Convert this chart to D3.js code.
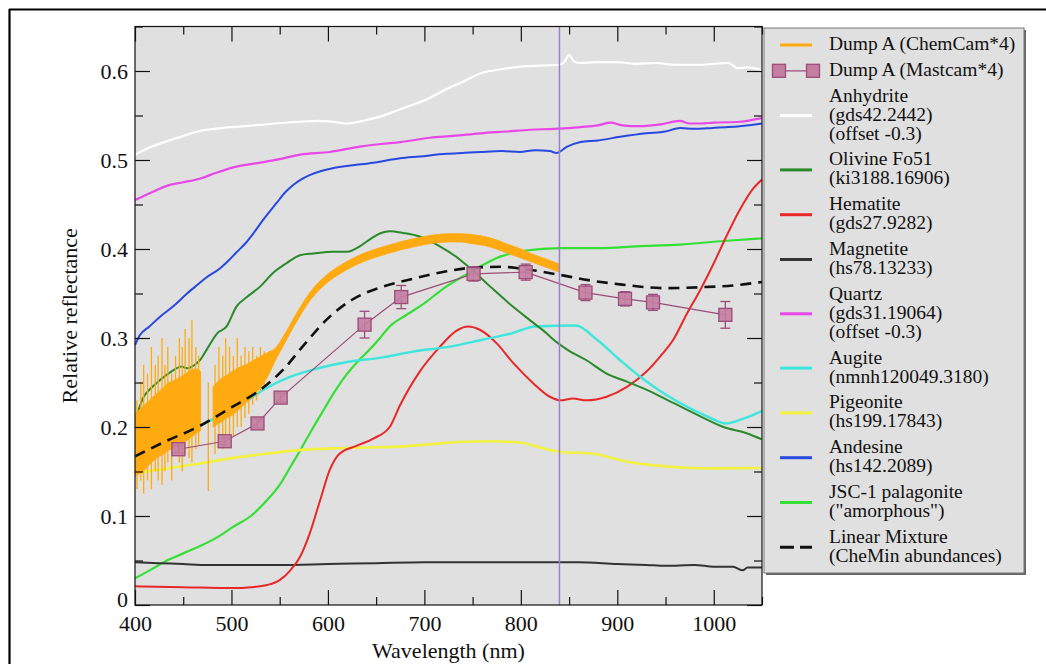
<!DOCTYPE html>
<html>
<head>
<meta charset="utf-8">
<script src="https://cdn.jsdelivr.net/npm/d3@7"></script>
<style>
  body { margin: 0; background: #ffffff; }
  svg { display: block; }
  text { font-family: "Liberation Serif", "Times New Roman", serif; fill: #111; }
</style>
</head>
<body>
<svg id="chart" width="1046" height="664"></svg>
<script>
// ---- Spectra: [wavelength nm, relative reflectance] ----
const anhydrite = [[400,0.506],[415,0.514],[430,0.52],[450,0.527],[465,0.532],[490,0.536],[515,0.538],[545,0.541],[570,0.543],[590,0.544],[605,0.543],[620,0.541],[640,0.545],[655,0.549],[670,0.555],[685,0.561],[700,0.567],[720,0.578],[740,0.588],[760,0.598],[780,0.602],[800,0.605],[820,0.606],[840,0.607],[845,0.61],[850,0.618],[855,0.611],[860,0.609],[880,0.61],[900,0.61],[920,0.608],[940,0.609],[960,0.607],[985,0.607],[1000,0.608],[1015,0.609],[1025,0.603],[1035,0.604],[1050,0.601]];
const quartz = [[400,0.455],[420,0.465],[436,0.472],[450,0.475],[467,0.479],[485,0.486],[503,0.492],[530,0.497],[550,0.501],[571,0.506],[602,0.509],[633,0.515],[655,0.518],[675,0.52],[706,0.525],[730,0.527],[758,0.530],[785,0.532],[810,0.534],[835,0.535],[862,0.537],[880,0.539],[893,0.542],[905,0.539],[923,0.538],[945,0.54],[965,0.544],[975,0.541],[986,0.541],[1000,0.542],[1027,0.543],[1040,0.545],[1050,0.547]];
const andesine = [[400,0.292],[405,0.303],[415,0.313],[426,0.324],[440,0.336],[454,0.350],[465,0.36],[474,0.368],[488,0.378],[497,0.387],[505,0.396],[515,0.407],[523,0.418],[533,0.433],[547,0.452],[556,0.464],[564,0.472],[572,0.478],[581,0.483],[594,0.488],[606,0.491],[626,0.494],[647,0.497],[675,0.502],[695,0.504],[723,0.507],[740,0.508],[758,0.509],[780,0.51],[799,0.509],[815,0.511],[830,0.51],[837,0.508],[848,0.515],[861,0.52],[880,0.522],[903,0.526],[930,0.53],[950,0.532],[965,0.536],[980,0.535],[999,0.536],[1015,0.537],[1027,0.538],[1050,0.541]];
const olivine = [[400,0.208],[402,0.214],[409,0.234],[416,0.243],[423,0.25],[432,0.258],[440,0.264],[448,0.268],[454,0.266],[462,0.27],[468,0.276],[476,0.29],[485,0.305],[495,0.313],[505,0.335],[516,0.346],[530,0.358],[543,0.373],[557,0.384],[571,0.393],[585,0.395],[605,0.397],[620,0.397],[633,0.403],[645,0.412],[655,0.418],[664,0.42],[678,0.418],[695,0.414],[716,0.403],[737,0.388],[750,0.376],[768,0.358],[792,0.335],[813,0.317],[827,0.305],[834,0.298],[848,0.287],[868,0.275],[889,0.26],[910,0.251],[930,0.242],[958,0.227],[986,0.212],[1010,0.2],[1034,0.193],[1050,0.186]];
const hematite = [[400,0.021],[450,0.02],[502,0.019],[520,0.02],[537,0.0225],[550,0.028],[561,0.039],[571,0.054],[581,0.08],[592,0.118],[602,0.152],[612,0.17],[630,0.179],[647,0.187],[664,0.2],[675,0.225],[695,0.262],[716,0.29],[733,0.308],[745,0.313],[758,0.309],[775,0.294],[792,0.272],[813,0.249],[830,0.234],[841,0.23],[854,0.232],[868,0.23],[889,0.234],[910,0.245],[930,0.262],[945,0.28],[958,0.298],[972,0.327],[986,0.354],[1000,0.384],[1013,0.414],[1027,0.444],[1041,0.468],[1050,0.478]];
const magnetite = [[400,0.048],[425,0.047],[450,0.046],[475,0.045],[500,0.045],[550,0.045],[600,0.046],[650,0.047],[700,0.048],[750,0.048],[800,0.048],[840,0.048],[860,0.048],[900,0.046],[930,0.045],[950,0.044],[980,0.045],[1000,0.043],[1020,0.043],[1030,0.039],[1035,0.042],[1050,0.042]];
const augite = [[400,0.163],[430,0.185],[465,0.2],[490,0.214],[510,0.225],[535,0.243],[560,0.256],[590,0.266],[620,0.273],[655,0.278],[690,0.285],[725,0.29],[760,0.298],[790,0.305],[815,0.313],[857,0.314],[879,0.298],[903,0.275],[923,0.257],[948,0.238],[972,0.223],[993,0.212],[1013,0.204],[1027,0.208],[1048,0.217],[1050,0.218]];
const pigeonite = [[400,0.148],[430,0.153],[467,0.159],[500,0.165],[536,0.17],[570,0.174],[605,0.176],[640,0.177],[675,0.178],[710,0.181],[740,0.1835],[770,0.184],[802,0.182],[820,0.177],[841,0.172],[875,0.17],[895,0.165],[910,0.161],[930,0.158],[948,0.156],[975,0.154],[1000,0.1535],[1050,0.154]];
const palagonite = [[400,0.03],[417,0.04],[433,0.05],[450,0.058],[467,0.066],[485,0.076],[502,0.088],[520,0.1],[537,0.118],[550,0.135],[561,0.155],[573,0.177],[585,0.2],[596,0.22],[606,0.238],[620,0.26],[633,0.276],[645,0.289],[654,0.3],[664,0.313],[680,0.325],[696,0.336],[723,0.358],[751,0.376],[775,0.39],[803,0.398],[841,0.401],[882,0.401],[920,0.403],[965,0.405],[1010,0.409],[1050,0.412]];
const mixture = [[400,0.167],[430,0.183],[465,0.2],[500,0.222],[535,0.246],[555,0.266],[575,0.292],[600,0.322],[625,0.343],[655,0.357],[690,0.367],[723,0.375],[750,0.379],[780,0.38],[800,0.378],[840,0.371],[870,0.365],[905,0.36],[950,0.356],[985,0.357],[1020,0.359],[1050,0.363]];

// ChemCam band (x4): envelope of the dense spectrum, null marks the data gap
const chemcamNm = [400,405,410,415,420,425,430,435,440,445,450,455,460,465,468,474,481,485,490,495,500,505,510,515,520,525,530,535,540,545,550,555,560,565,570,575,580,590,600,612,625,637,650,662,675,687,700,712,725,737,750,762,775,787,800,810,820,830,840];
const chemcamLo = [0.145,0.148,0.152,0.158,0.163,0.167,0.17,0.174,0.177,0.18,0.183,0.186,0.19,0.194,0.196,null,0.2,0.203,0.206,0.21,0.213,0.217,0.222,0.227,0.232,0.238,0.244,0.252,0.262,0.274,0.284,0.294,0.304,0.314,0.323,0.332,0.34,0.353,0.363,0.372,0.38,0.386,0.391,0.395,0.399,0.402,0.405,0.407,0.408,0.408,0.406,0.404,0.4,0.395,0.39,0.386,0.382,0.378,0.374];
const chemcamHi = [0.215,0.22,0.225,0.23,0.235,0.24,0.245,0.25,0.252,0.255,0.258,0.262,0.265,0.265,0.262,null,0.245,0.25,0.255,0.258,0.262,0.265,0.268,0.27,0.273,0.276,0.279,0.282,0.285,0.288,0.295,0.304,0.313,0.323,0.332,0.341,0.349,0.362,0.372,0.381,0.389,0.395,0.4,0.404,0.408,0.411,0.414,0.416,0.417,0.417,0.416,0.414,0.41,0.405,0.4,0.395,0.391,0.387,0.383];
// individual noise spikes of the ChemCam spectrum
const spikeNm = [402,406,409,413,417,421,424,428,431,434,438,442,446,449,452,456,459,463,466,476,483,487,491,494,498,502,506,510,514,518,522,526,530,534];
const spikeLo = [0.13,0.14,0.125,0.14,0.13,0.15,0.14,0.135,0.15,0.16,0.14,0.17,0.16,0.15,0.17,0.165,0.16,0.175,0.18,0.128,0.17,0.18,0.175,0.19,0.185,0.19,0.2,0.2,0.21,0.215,0.225,0.23,0.24,0.245];
const spikeHi = [0.23,0.25,0.27,0.26,0.29,0.27,0.28,0.3,0.27,0.29,0.26,0.28,0.3,0.29,0.31,0.3,0.32,0.29,0.28,0.25,0.27,0.29,0.28,0.3,0.29,0.28,0.3,0.28,0.29,0.285,0.29,0.28,0.29,0.285];

// Mastcam (x4) filter reflectances with error bars
const mastcamNm = [445,493,527,551,638,676,751,805,867,908,937,1012];
const mastcamVal = [0.175,0.184,0.204,0.233,0.315,0.346,0.372,0.374,0.351,0.344,0.340,0.326];
const mastcamErr = [0.004,0.004,0.005,0.005,0.015,0.013,0.008,0.009,0.009,0.008,0.009,0.015];

// axis ticks
const xTicks = [400,500,600,700,800,900,1000];
const xMinor = [450,550,650,750,850,950,1050];
const yTicks = [0,0.1,0.2,0.3,0.4,0.5,0.6];
const yTickLabels = ["0","0.1","0.2","0.3","0.4","0.5","0.6"];
const yMinor = [0.05,0.15,0.25,0.35,0.45,0.55,0.65];
const markerNm = 840;

// drawing order and styles of the reference spectra
const series = [
  {name:"palagonite", data:palagonite, color:"#33e033", width:2.2},
  {name:"pigeonite", data:pigeonite, color:"#f2f240", width:2.6},
  {name:"magnetite", data:magnetite, color:"#333333", width:2},
  {name:"hematite", data:hematite, color:"#e82828", width:2},
  {name:"augite", data:augite, color:"#3ee6dc", width:2.4},
  {name:"olivine", data:olivine, color:"#2a8a2a", width:2},
  {name:"andesine", data:andesine, color:"#2848e0", width:2},
  {name:"quartz", data:quartz, color:"#e848e8", width:2.2},
  {name:"anhydrite", data:anhydrite, color:"#ffffff", width:2.2}
];

const legendItems = [
  {lines:["Dump A (ChemCam*4)"], color:"#ffaa10", type:"line", width:3},
  {lines:["Dump A (Mastcam*4)"], type:"mastcam"},
  {lines:["Anhydrite","(gds42.2442)","(offset -0.3)"], color:"#ffffff", type:"line", width:3},
  {lines:["Olivine Fo51","(ki3188.16906)"], color:"#2a8a2a", type:"line", width:3},
  {lines:["Hematite","(gds27.9282)"], color:"#e82828", type:"line", width:3},
  {lines:["Magnetite","(hs78.13233)"], color:"#333333", type:"line", width:3},
  {lines:["Quartz","(gds31.19064)","(offset -0.3)"], color:"#e848e8", type:"line", width:3},
  {lines:["Augite","(nmnh120049.3180)"], color:"#3ee6dc", type:"line", width:3},
  {lines:["Pigeonite","(hs199.17843)"], color:"#f2f240", type:"line", width:3},
  {lines:["Andesine","(hs142.2089)"], color:"#2848e0", type:"line", width:3},
  {lines:["JSC-1 palagonite","(\"amorphous\")"], color:"#33e033", type:"line", width:3},
  {lines:["Linear Mixture","(CheMin abundances)"], color:"#111111", type:"dash", width:3}
];

const svg = d3.select("#chart");
const pL = 135, pR = 762, pT = 26.5, pB = 605;
const x = d3.scaleLinear().domain([400,1050]).range([pL,pR]);
const y = d3.scaleLinear().domain([0,0.65]).range([pB,pT]);

// outer frame
svg.append("line").attr("x1",9).attr("x2",1046).attr("y1",9.5).attr("y2",9.5).attr("stroke","#000").attr("stroke-width",2.2);
svg.append("line").attr("x1",9.5).attr("x2",9.5).attr("y1",9).attr("y2",664).attr("stroke","#000").attr("stroke-width",2.2);

// plot background
svg.append("rect").attr("x",pL).attr("y",pT).attr("width",pR-pL).attr("height",pB-pT).attr("fill","#e0e0e0");

const clip = svg.append("defs").append("clipPath").attr("id","plotclip");
clip.append("rect").attr("x",pL).attr("y",pT).attr("width",pR-pL).attr("height",pB-pT);
const plot = svg.append("g").attr("clip-path","url(#plotclip)");

const line = d3.line().x(d => x(d[0])).y(d => y(d[1])).curve(d3.curveMonotoneX);

series.forEach(s => {
  plot.append("path").datum(s.data).attr("d", line)
    .attr("fill","none").attr("stroke", s.color).attr("stroke-width", s.width)
    .attr("stroke-linejoin","round");
});

// ChemCam spectrum
const ccColor = "#ffaa10";
const ccData = chemcamNm.map((n,i) => ({nm:n, lo:chemcamLo[i], hi:chemcamHi[i]}));
const ccArea = d3.area().defined(d => d.lo !== null)
  .x(d => x(d.nm)).y0(d => y(d.lo)).y1(d => y(d.hi)).curve(d3.curveMonotoneX);
plot.append("path").datum(ccData).attr("d", ccArea).attr("fill", ccColor).attr("stroke", ccColor).attr("stroke-width",1);
plot.append("g").selectAll("line").data(spikeNm).join("line")
  .attr("x1", d => x(d)).attr("x2", d => x(d))
  .attr("y1", (d,i) => y(spikeLo[i])).attr("y2", (d,i) => y(spikeHi[i]))
  .attr("stroke", ccColor).attr("stroke-width", 1.3);

// linear mixture model
plot.append("path").datum(mixture).attr("d", line).attr("fill","none")
  .attr("stroke","#111").attr("stroke-width",2.6).attr("stroke-dasharray","11,7");

// Mastcam points
const mc = mastcamNm.map((n,i) => ({nm:n, v:mastcamVal[i], e:mastcamErr[i]}));
const mcColor = "#9c4c78", mcFill = "#c47ea2";
plot.append("path").datum(mc).attr("d", d3.line().x(d => x(d.nm)).y(d => y(d.v)))
  .attr("fill","none").attr("stroke", mcColor).attr("stroke-width",1.2);
const mcG = plot.append("g").selectAll("g").data(mc).join("g");
mcG.append("line").attr("x1", d => x(d.nm)).attr("x2", d => x(d.nm))
  .attr("y1", d => y(d.v - d.e)).attr("y2", d => y(d.v + d.e)).attr("stroke", mcColor).attr("stroke-width",1.3);
mcG.append("line").attr("x1", d => x(d.nm)-5).attr("x2", d => x(d.nm)+5)
  .attr("y1", d => y(d.v + d.e)).attr("y2", d => y(d.v + d.e)).attr("stroke", mcColor).attr("stroke-width",1.3);
mcG.append("line").attr("x1", d => x(d.nm)-5).attr("x2", d => x(d.nm)+5)
  .attr("y1", d => y(d.v - d.e)).attr("y2", d => y(d.v - d.e)).attr("stroke", mcColor).attr("stroke-width",1.3);
mcG.append("rect").attr("x", d => x(d.nm)-6.5).attr("y", d => y(d.v)-6.5)
  .attr("width",13).attr("height",13).attr("fill", mcFill).attr("fill-opacity",0.9)
  .attr("stroke", mcColor).attr("stroke-width",1.3);

// 840 nm marker
plot.append("line").attr("x1", x(markerNm)).attr("x2", x(markerNm)).attr("y1", pT).attr("y2", pB)
  .attr("stroke","#9b7fd4").attr("stroke-width",1.5);

// axes
function styleAxis(g) {
  g.select(".domain").remove();
  g.selectAll(".tick line").attr("stroke","#111").attr("stroke-width",1.2);
  g.selectAll("text").attr("font-size",22).attr("font-family","Liberation Serif").attr("fill","#111");
}
svg.append("g").attr("transform",`translate(0,${pB})`)
  .call(d3.axisBottom(x).tickValues(xTicks).tickSizeInner(-15).tickSizeOuter(0).tickPadding(10).tickFormat(d3.format("d")))
  .call(styleAxis);
svg.append("g").attr("transform",`translate(0,${pB})`)
  .call(d3.axisBottom(x).tickValues(xMinor).tickSizeInner(-8).tickSizeOuter(0).tickFormat(""))
  .call(styleAxis);
svg.append("g").attr("transform",`translate(0,${pT})`)
  .call(d3.axisTop(x).tickValues(xTicks).tickSizeInner(-15).tickSizeOuter(0).tickFormat(""))
  .call(styleAxis);
svg.append("g").attr("transform",`translate(0,${pT})`)
  .call(d3.axisTop(x).tickValues(xMinor).tickSizeInner(-8).tickSizeOuter(0).tickFormat(""))
  .call(styleAxis);
const yAxisG = svg.append("g").attr("transform",`translate(${pL},0)`)
  .call(d3.axisLeft(y).tickValues(yTicks).tickSizeInner(-15).tickSizeOuter(0).tickPadding(7).tickFormat((d,i) => yTickLabels[i]))
  .call(styleAxis);
// lift the "0" label clear of the "400" label beneath it
yAxisG.selectAll(".tick text").filter(d => d === 0).attr("y", -6);
svg.append("g").attr("transform",`translate(${pL},0)`)
  .call(d3.axisLeft(y).tickValues(yMinor).tickSizeInner(-8).tickSizeOuter(0).tickFormat(""))
  .call(styleAxis);
svg.append("g").attr("transform",`translate(${pR},0)`)
  .call(d3.axisRight(y).tickValues(yTicks).tickSizeInner(-15).tickSizeOuter(0).tickFormat(""))
  .call(styleAxis);
svg.append("g").attr("transform",`translate(${pR},0)`)
  .call(d3.axisRight(y).tickValues(yMinor).tickSizeInner(-8).tickSizeOuter(0).tickFormat(""))
  .call(styleAxis);

// plot frame
svg.append("rect").attr("x",pL).attr("y",pT).attr("width",pR-pL).attr("height",pB-pT)
  .attr("fill","none").attr("stroke","#111").attr("stroke-width",1.2);

// axis titles
svg.append("text").attr("x",(pL+pR)/2).attr("y",658).attr("text-anchor","middle")
  .attr("font-size",22).text("Wavelength (nm)");
svg.append("text").attr("transform",`translate(77,${(pT+pB)/2}) rotate(-90)`).attr("text-anchor","middle")
  .attr("font-size",22).text("Relative reflectance");

// legend
const lg = svg.append("g");
lg.append("rect").attr("x",766).attr("y",30).attr("width",260).attr("height",545).attr("fill","#666");
lg.append("rect").attr("x",764).attr("y",28).attr("width",260).attr("height",545)
  .attr("fill","#e0e0e0").attr("stroke","#777").attr("stroke-width",1);
let base = 50;
legendItems.forEach(item => {
  const baselines = item.lines.map((_,k) => base + k*19);
  const sy = d3.mean(baselines) - 5;
  if (item.type === "mastcam") {
    lg.append("line").attr("x1",779).attr("x2",813).attr("y1",sy).attr("y2",sy).attr("stroke",mcColor).attr("stroke-width",1.3);
    [779,813].forEach(cx => lg.append("rect").attr("x",cx-6.5).attr("y",sy-6.5).attr("width",13).attr("height",13)
      .attr("fill",mcFill).attr("stroke",mcColor).attr("stroke-width",1.3));
  } else {
    const l = lg.append("line").attr("x1",780).attr("x2",812).attr("y1",sy).attr("y2",sy)
      .attr("stroke",item.color).attr("stroke-width",item.width);
    if (item.type === "dash") l.attr("stroke-dasharray","14,6");
  }
  item.lines.forEach((t,k) => {
    lg.append("text").attr("x",829).attr("y",baselines[k]).attr("font-size",19.5).text(t);
  });
  base = baselines[baselines.length-1] + 25.8;
});
</script>
</body>
</html>
